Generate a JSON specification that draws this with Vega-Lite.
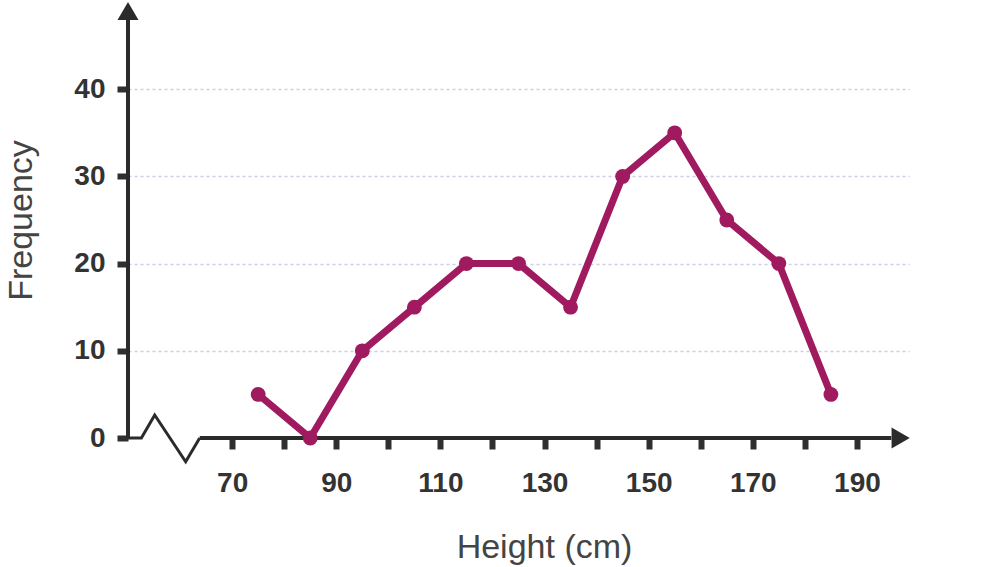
{
  "$schema": "https://vega.github.io/schema/vega-lite/v6.json",
  "autosize": "none",
  "width": 781,
  "height": 436,
  "padding": {"left": 128, "top": 2, "right": 99, "bottom": 129},
  "background": "white",
  "config": {"view": {"stroke": null}},
  "datasets": {
    "freq": [
      {"height": 75, "freq": 5},
      {"height": 85, "freq": 0},
      {"height": 95, "freq": 10},
      {"height": 105, "freq": 15},
      {"height": 115, "freq": 20},
      {"height": 125, "freq": 20},
      {"height": 135, "freq": 15},
      {"height": 145, "freq": 30},
      {"height": 155, "freq": 35},
      {"height": 165, "freq": 25},
      {"height": 175, "freq": 20},
      {"height": 185, "freq": 5}
    ],
    "axisline": [
      {"part": "y", "x": 50, "y": 0},
      {"part": "y", "x": 50, "y": 48.6},
      {"part": "x", "x": 63.77, "y": 0},
      {"part": "x", "x": 196.6, "y": 0}
    ],
    "zigzag": [
      {"x": 50, "y": 0},
      {"x": 52.57, "y": 0},
      {"x": 55.13, "y": 2.64},
      {"x": 61.08, "y": -2.72},
      {"x": 63.77, "y": 0}
    ],
    "arrows": [
      {"dir": "up", "x": 50, "y": 48.97},
      {"dir": "right", "x": 198.4, "y": 0}
    ]
  },
  "layer": [
    {
      "data": {"name": "freq"},
      "mark": {"type": "line", "color": "#a01a5f", "strokeWidth": 7, "strokeJoin": "miter"},
      "encoding": {
        "x": {
          "field": "height", "type": "quantitative",
          "title": "Height (cm)",
          "scale": {"domain": [50, 200], "nice": false, "zero": false},
          "axis": {
            "values": [70, 80, 90, 100, 110, 120, 130, 140, 150, 160, 170, 180, 190],
            "labelExpr": "datum.value % 20 == 10 ? datum.label : ''",
            "domain": false, "grid": false,
            "tickSize": 11, "tickWidth": 6, "tickColor": "#2f2f2f",
            "labelFont": "Liberation Sans", "labelFontWeight": "bold", "labelFontSize": 28,
            "labelColor": "#333333", "labelPadding": 20, "labelFlush": false, "labelOverlap": false,
            "titleFont": "Liberation Sans", "titleFontSize": 34,
            "titleFontWeight": "normal", "titleColor": "#444444",
            "titleX": 416, "titleY": 119, "titleBaseline": "alphabetic", "titleAlign": "center"
          }
        },
        "y": {
          "field": "freq", "type": "quantitative",
          "title": "Frequency",
          "scale": {"domain": [0, 50], "nice": false},
          "axis": {
            "values": [0, 10, 20, 30, 40],
            "domain": false, "grid": true,
            "gridColor": "#cdcde6", "gridDash": [3, 3], "gridWidth": 1.5,
            "gridOpacity": {"condition": {"test": "datum.value == 0", "value": 0}, "value": 1},
            "tickSize": 11, "tickWidth": 6, "tickColor": "#2f2f2f",
            "labelFont": "Liberation Sans", "labelFontWeight": "bold", "labelFontSize": 28,
            "labelColor": "#333333", "labelPadding": 12, "labelFlush": false, "labelOverlap": false,
            "titleFont": "Liberation Sans", "titleFontSize": 34,
            "titleFontWeight": "normal", "titleColor": "#444444",
            "titleX": -97, "titleY": 218, "titleBaseline": "alphabetic", "titleAlign": "center"
          }
        }
      }
    },
    {
      "data": {"name": "axisline"},
      "mark": {"type": "line", "color": "#2b2b2b", "strokeWidth": 4},
      "encoding": {
        "x": {"field": "x", "type": "quantitative", "title": "Height (cm)"},
        "y": {"field": "y", "type": "quantitative", "title": "Frequency"},
        "detail": {"field": "part"}
      }
    },
    {
      "data": {"name": "zigzag"},
      "mark": {"type": "line", "color": "#2b2b2b", "strokeWidth": 3, "strokeJoin": "miter"},
      "encoding": {
        "x": {"field": "x", "type": "quantitative", "title": "Height (cm)"},
        "y": {"field": "y", "type": "quantitative", "title": "Frequency"}
      }
    },
    {
      "data": {"name": "arrows"},
      "mark": {"type": "point", "filled": true, "color": "#2b2b2b", "opacity": 1, "size": 440},
      "encoding": {
        "x": {"field": "x", "type": "quantitative", "title": "Height (cm)"},
        "y": {"field": "y", "type": "quantitative", "title": "Frequency"},
        "shape": {"field": "dir", "type": "nominal", "scale": {"domain": ["up", "right"], "range": ["triangle-up", "triangle-right"]}, "legend": null}
      }
    },
    {
      "data": {"name": "freq"},
      "mark": {"type": "circle", "color": "#a01a5f", "opacity": 1, "size": 220},
      "encoding": {
        "x": {"field": "height", "type": "quantitative", "title": "Height (cm)"},
        "y": {"field": "freq", "type": "quantitative", "title": "Frequency"}
      }
    }
  ]
}
